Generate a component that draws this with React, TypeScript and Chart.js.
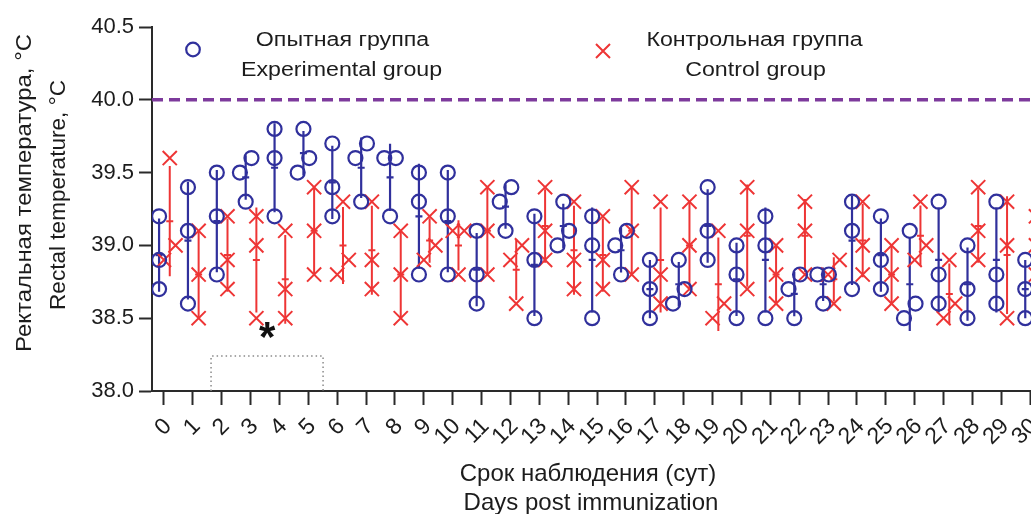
import React, { useEffect, useRef } from 'react';
import { Chart, registerables } from 'chart.js';

Chart.register(...registerables);

// ---------- DATA ----------
const days = [0, 1, 2, 3, 4, 5, 6, 7, 8, 9, 10, 11, 12, 13, 14, 15, 16, 17, 18, 19, 20, 21, 22, 23, 24, 25, 26, 27, 28, 29, 30];

// Experimental group (three animals per day), °C
const experimentalGroup = [
  [39.2, 38.9, 38.7], [39.4, 39.1, 38.6], [39.5, 39.2, 38.8], [39.6, 39.5, 39.3], [39.8, 39.6, 39.2],
  [39.8, 39.6, 39.5], [39.7, 39.4, 39.2], [39.7, 39.6, 39.3], [39.6, 39.6, 39.2], [39.5, 39.3, 38.8],
  [39.5, 39.2, 38.8], [39.1, 38.8, 38.6], [39.4, 39.3, 39.1], [39.2, 38.9, 38.5], [39.3, 39.1, 39.0],
  [39.2, 39.0, 38.5], [39.1, 39.0, 38.8], [38.9, 38.7, 38.5], [38.9, 38.7, 38.6], [39.4, 39.1, 38.9],
  [39.0, 38.8, 38.5], [39.2, 39.0, 38.5], [38.8, 38.7, 38.5], [38.8, 38.8, 38.6], [39.3, 39.1, 38.7],
  [39.2, 38.9, 38.7], [39.1, 38.6, 38.5], [39.3, 38.8, 38.6], [39.0, 38.7, 38.5], [39.3, 38.8, 38.6],
  [38.9, 38.7, 38.5],
];

// Control group (three animals per day), °C
const controlGroup = [
  [39.6, 39.0, 38.9], [39.1, 38.8, 38.5], [39.2, 38.9, 38.7], [39.2, 39.0, 38.5], [39.1, 38.7, 38.5],
  [39.4, 39.1, 38.8], [39.3, 38.9, 38.8], [39.3, 38.9, 38.7], [39.1, 38.8, 38.5], [39.2, 39.0, 38.9],
  [39.1, 39.1, 38.8], [39.4, 39.1, 38.8], [39.0, 38.9, 38.6], [39.4, 39.1, 38.9], [39.3, 38.9, 38.7],
  [39.2, 38.9, 38.7], [39.4, 39.1, 38.8], [39.3, 38.8, 38.6], [39.3, 39.0, 38.7], [39.1, 38.6, 38.5],
  [39.4, 39.1, 38.7], [39.0, 38.8, 38.6], [39.3, 39.1, 38.8], [38.9, 38.8, 38.6], [39.3, 39.0, 38.8],
  [39.0, 38.8, 38.6], [39.3, 39.0, 38.9], [38.9, 38.6, 38.5], [39.4, 39.1, 38.9], [39.3, 39.0, 38.5],
  [39.2, 39.0, 38.8],
];

const yTicks = [38.0, 38.5, 39.0, 39.5, 40.0, 40.5];
const feverThreshold = 40.0;
// dotted immunization window (days, °C)
const windowDays = [1.63, 5.51];
const windowTop = 38.24;
// significance mark (day, °C)
const starPos = [3.57, 38.42];

const legendExpLines = ['Опытная группа', 'Experimental group'];
const legendCtrlLines = ['Контрольная группа', 'Control group'];
const yTitleLines = ['Ректальная температура, °C', 'Rectal temperature, °C'];
const xTitleLines = ['Срок наблюдения (сут)', 'Days post immunization'];

// ---------- STYLE ----------
const BLUE = '#30309c';
const RED = '#ee3535';
const PURPLE = '#7d3a9c';
const AXIS = '#2a2a2a';
const TEXT = '#1c1c1c';
const FONT = '"Liberation Sans", Arial, Helvetica, sans-serif';

const X_MIN = -0.415;
const X_MAX = 31.38;
const EXP_OFFSET = -0.17;
const CTRL_OFFSET = 0.2;
const JITTER = 0.2;

function jitterOffsets(vals: number[], step: number): number[] {
  const idx = vals.map((_, i) => i).sort((a, b) => vals[a] - vals[b]);
  const offs = new Array(vals.length).fill(0);
  let start = 0;
  for (let k = 1; k <= idx.length; k++) {
    if (k === idx.length || vals[idx[k]] - vals[idx[k - 1]] > 0.1 + 1e-6) {
      const n = k - start;
      for (let j = 0; j < n; j++) offs[idx[start + j]] = (j - (n - 1) / 2) * 2 * step;
      start = k;
    }
  }
  return offs;
}

function stats(vals: number[]) {
  const n = vals.length;
  const mean = vals.reduce((a, b) => a + b, 0) / n;
  const sd = Math.sqrt(vals.reduce((a, b) => a + (b - mean) * (b - mean), 0) / (n - 1));
  return { mean, sd };
}

function buildPoints(group: number[][], offset: number) {
  const pts: { x: number; y: number }[] = [];
  group.forEach((vals, i) => {
    const offs = jitterOffsets(vals, JITTER);
    vals.forEach((v, j) => pts.push({ x: days[i] + offset + offs[j], y: v }));
  });
  return pts;
}

const groups = [
  { values: controlGroup, offset: CTRL_OFFSET, color: RED, width: 2 },
  { values: experimentalGroup, offset: EXP_OFFSET, color: BLUE, width: 2.2 },
];

const errorBarPlugin = {
  id: 'errorBars',
  beforeDatasetsDraw(chart: any) {
    const { ctx, chartArea } = chart;
    const xs = chart.scales.x;
    const ys = chart.scales.y;
    ctx.save();
    ctx.beginPath();
    ctx.rect(chartArea.left, chartArea.top, chartArea.right - chartArea.left, chartArea.bottom - chartArea.top);
    ctx.clip();
    groups.forEach((g) => {
      ctx.strokeStyle = g.color;
      ctx.lineWidth = g.width;
      g.values.forEach((vals, i) => {
        const { mean, sd } = stats(vals);
        const px = xs.getPixelForValue(days[i] + g.offset);
        const top = ys.getPixelForValue(mean + sd);
        const bot = ys.getPixelForValue(mean - sd);
        const pm = ys.getPixelForValue(mean);
        ctx.beginPath();
        ctx.moveTo(px, top);
        ctx.lineTo(px, bot);
        ctx.moveTo(px - 3.5, pm);
        ctx.lineTo(px + 3.5, pm);
        ctx.stroke();
      });
    });
    ctx.restore();
  },
};

function drawText(ctx: any, text: string, x: number, y: number, size: number, opts: any = {}) {
  ctx.save();
  ctx.font = `${opts.weight || 'normal'} ${size}px ${FONT}`;
  const w = ctx.measureText(text).width;
  const sx = opts.targetWidth ? opts.targetWidth / w : opts.scaleX || 1;
  ctx.translate(x, y);
  if (opts.rotate) ctx.rotate(-Math.PI / 2);
  ctx.scale(sx, 1);
  ctx.fillStyle = opts.color || TEXT;
  ctx.textAlign = 'center';
  ctx.textBaseline = 'alphabetic';
  ctx.fillText(text, 0, 0);
  ctx.restore();
}

const annotationPlugin = {
  id: 'annotations',
  afterDraw(chart: any) {
    const { ctx } = chart;
    const xs = chart.scales.x;
    const ys = chart.scales.y;

    // legend markers
    ctx.save();
    ctx.lineWidth = 2.2;
    ctx.strokeStyle = BLUE;
    ctx.beginPath();
    ctx.arc(193, 49.5, 6.8, 0, Math.PI * 2);
    ctx.stroke();
    ctx.lineWidth = 2;
    ctx.strokeStyle = RED;
    ctx.beginPath();
    ctx.moveTo(596, 44);
    ctx.lineTo(610, 58);
    ctx.moveTo(610, 44);
    ctx.lineTo(596, 58);
    ctx.stroke();
    ctx.restore();

    // legend texts
    drawText(ctx, legendExpLines[0], 342.5, 45.5, 20, { scaleX: 1.16 });
    drawText(ctx, legendExpLines[1], 341.5, 75.5, 20, { scaleX: 1.16 });
    drawText(ctx, legendCtrlLines[0], 754.5, 45.5, 20, { scaleX: 1.16 });
    drawText(ctx, legendCtrlLines[1], 755.5, 75.5, 20, { scaleX: 1.16 });

    // y axis title (two lines, rotated)
    drawText(ctx, yTitleLines[0], 31, 193, 22.5, { rotate: true, targetWidth: 318 });
    drawText(ctx, yTitleLines[1], 65, 195, 22.5, { rotate: true, targetWidth: 230 });

    // x axis title
    drawText(ctx, xTitleLines[0], 588, 481, 24);
    drawText(ctx, xTitleLines[1], 591, 510, 24);

    // significance asterisk
    ctx.save();
    ctx.font = `bold 42px ${FONT}`;
    const m = ctx.measureText('*');
    const cx = xs.getPixelForValue(starPos[0]);
    const cy = ys.getPixelForValue(starPos[1]);
    ctx.fillStyle = '#111';
    ctx.textAlign = 'center';
    ctx.textBaseline = 'alphabetic';
    ctx.fillText('*', cx, cy + (m.actualBoundingBoxAscent - m.actualBoundingBoxDescent) / 2);
    ctx.restore();
  },
};

export default function App() {
  const canvasRef = useRef<HTMLCanvasElement | null>(null);

  useEffect(() => {
    const canvas = canvasRef.current;
    if (!canvas) return;
    Chart.defaults.font.family = FONT;

    const expPoints = buildPoints(experimentalGroup, EXP_OFFSET);
    const ctrlPoints = buildPoints(controlGroup, CTRL_OFFSET);
    const thresholdLine = [
      { x: X_MIN, y: feverThreshold },
      { x: X_MAX, y: feverThreshold },
    ];
    const windowBox = [
      { x: windowDays[0], y: yTicks[0] },
      { x: windowDays[0], y: windowTop },
      { x: windowDays[1], y: windowTop },
      { x: windowDays[1], y: yTicks[0] },
    ];

    const chart = new Chart(canvas, {
      type: 'scatter',
      data: {
        datasets: [
          {
            label: legendExpLines[1],
            data: expPoints,
            pointStyle: 'circle',
            pointRadius: 7,
            pointBorderWidth: 2.2,
            borderColor: BLUE,
            pointBorderColor: BLUE,
            backgroundColor: 'rgba(0,0,0,0)',
            pointBackgroundColor: 'rgba(0,0,0,0)',
            order: 1,
          },
          {
            label: legendCtrlLines[1],
            data: ctrlPoints,
            pointStyle: 'crossRot',
            pointRadius: 10,
            pointBorderWidth: 2,
            borderColor: RED,
            pointBorderColor: RED,
            backgroundColor: RED,
            order: 2,
          },
          {
            label: 'threshold',
            data: thresholdLine,
            showLine: true,
            borderColor: PURPLE,
            borderWidth: 3.5,
            borderDash: [11, 6],
            pointRadius: 0,
            order: 3,
          },
          {
            label: 'window',
            data: windowBox,
            showLine: true,
            borderColor: '#8a8a8a',
            borderWidth: 1.5,
            borderDash: [1.5, 3],
            pointRadius: 0,
            order: 4,
          },
        ],
      },
      options: {
        responsive: false,
        animation: false,
        devicePixelRatio: 1,
        events: [],
        layout: { padding: { left: 0, top: 27, right: 30, bottom: 0 } },
        plugins: {
          legend: { display: false },
          tooltip: { enabled: false },
          title: { display: false },
        },
        scales: {
          x: {
            type: 'linear',
            min: X_MIN,
            max: X_MAX,
            afterBuildTicks: (s: any) => {
              s.ticks = days.map((v) => ({ value: v }));
            },
            afterFit: (s: any) => {
              s.height = 123;
            },
            grid: { drawOnChartArea: false, drawTicks: true, tickLength: 14, tickWidth: 2, tickColor: AXIS },
            border: { display: true, color: AXIS, width: 2 },
            ticks: {
              autoSkip: false,
              minRotation: 45,
              maxRotation: 45,
              labelOffset: 4,
              padding: 8,
              color: TEXT,
              font: { size: 23, family: FONT },
              callback: (v: any) => String(v),
            },
          },
          y: {
            type: 'linear',
            min: yTicks[0],
            max: yTicks[yTicks.length - 1],
            afterBuildTicks: (s: any) => {
              s.ticks = yTicks.map((v) => ({ value: v }));
            },
            afterFit: (s: any) => {
              s.width = 152;
            },
            grid: { drawOnChartArea: false, drawTicks: true, tickLength: 13, tickWidth: 2, tickColor: AXIS },
            border: { display: true, color: AXIS, width: 2 },
            ticks: {
              padding: 5,
              color: TEXT,
              font: { size: 22, family: FONT },
              callback: (v: any) => Number(v).toFixed(1),
            },
          },
        },
      },
      plugins: [errorBarPlugin, annotationPlugin],
    } as any);

    return () => chart.destroy();
  }, []);

  return (
    <div style={{ position: 'absolute', left: 0, top: 0, width: 1031, height: 514, overflow: 'hidden', background: '#fff' }}>
      <canvas ref={canvasRef} width={1100} height={514} style={{ display: 'block', width: '1100px', height: '514px' }} />
    </div>
  );
}
